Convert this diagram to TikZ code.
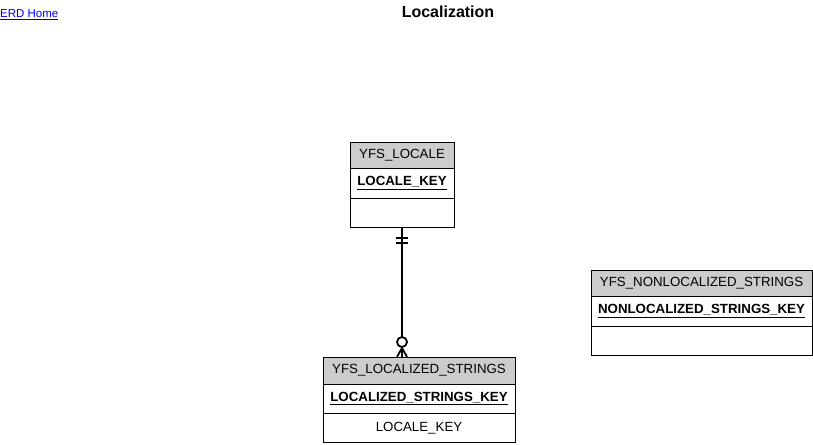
\documentclass[tikz,border=0pt]{standalone}
\usepackage{fontspec}
\setmainfont{Liberation Sans}
\usetikzlibrary{calc}
\definecolor{hdr}{RGB}{204,204,204}
\definecolor{linkblue}{RGB}{0,0,238}
\begin{document}
\begin{tikzpicture}[x=1pt,y=-1pt,
  tbl/.style={draw=black,line width=1pt,minimum height=#1,inner sep=0pt,outer sep=0pt,anchor=north west},
  hdrrow/.style={tbl=26pt,fill=hdr,font=\fontsize{13.3}{16}\selectfont},
  keyrow/.style={tbl=30pt,font=\fontsize{13.3}{16}\selectfont\bfseries},
  attrrow/.style={tbl=29pt,font=\fontsize{13.3}{16}\selectfont},
  rel/.style={line width=1.8pt}]
\useasboundingbox (0,0) rectangle (813,444);
% title and link
\node[anchor=center,font=\fontsize{16}{19}\selectfont\bfseries] (title) at (448,12) {Localization};
\node[anchor=west,inner sep=0pt,text=linkblue,font=\fontsize{11.5}{14}\selectfont] (home) at (0,15) {\underline{ERD Home}};
% YFS_LOCALE
\node[hdrrow,minimum width=104pt] (lh) at (350,142) {YFS\_LOCALE};
\node[keyrow,minimum width=104pt] (lk) at (lh.south west) {\underline{LOCALE\_KEY}};
\node[attrrow,minimum width=104pt] (la) at (lk.south west) {};
% YFS_LOCALIZED_STRINGS
\node[hdrrow,minimum width=192pt,minimum height=27pt] (sh) at (323,357) {YFS\_LOCALIZED\_STRINGS};
\node[keyrow,minimum width=192pt,minimum height=29pt] (sk) at (sh.south west) {\underline{LOCALIZED\_STRINGS\_KEY}};
\node[attrrow,minimum width=192pt,minimum height=29.5pt] (sa) at (sk.south west) {LOCALE\_KEY};
% YFS_NONLOCALIZED_STRINGS
\node[hdrrow,minimum width=221pt] (nh) at (591,270) {YFS\_NONLOCALIZED\_STRINGS};
\node[keyrow,minimum width=221pt] (nk) at (nh.south west) {\underline{NONLOCALIZED\_STRINGS\_KEY}};
\node[attrrow,minimum width=221pt] (na) at (nk.south west) {};
% relationship
\coordinate (top) at ($(la.south west)!0.5!(la.south east)$);
\coordinate (bot) at (top |- sh.north);
\draw[rel] (top) -- (bot);
% one-and-only-one bars
\draw[rel] ($(top)+(-6,11)$) -- ($(top)+(6,11)$);
\draw[rel] ($(top)+(-6,16)$) -- ($(top)+(6,16)$);
% zero-or-many: circle and crow's foot
\draw[rel] ($(bot)+(0,-9)$) -- ($(bot)+(-5,0)$);
\draw[rel] ($(bot)+(0,-9)$) -- ($(bot)+(5,0)$);
\draw[rel,fill=white] ($(bot)+(0,-15)$) circle[radius=5];
\end{tikzpicture}
\end{document}
